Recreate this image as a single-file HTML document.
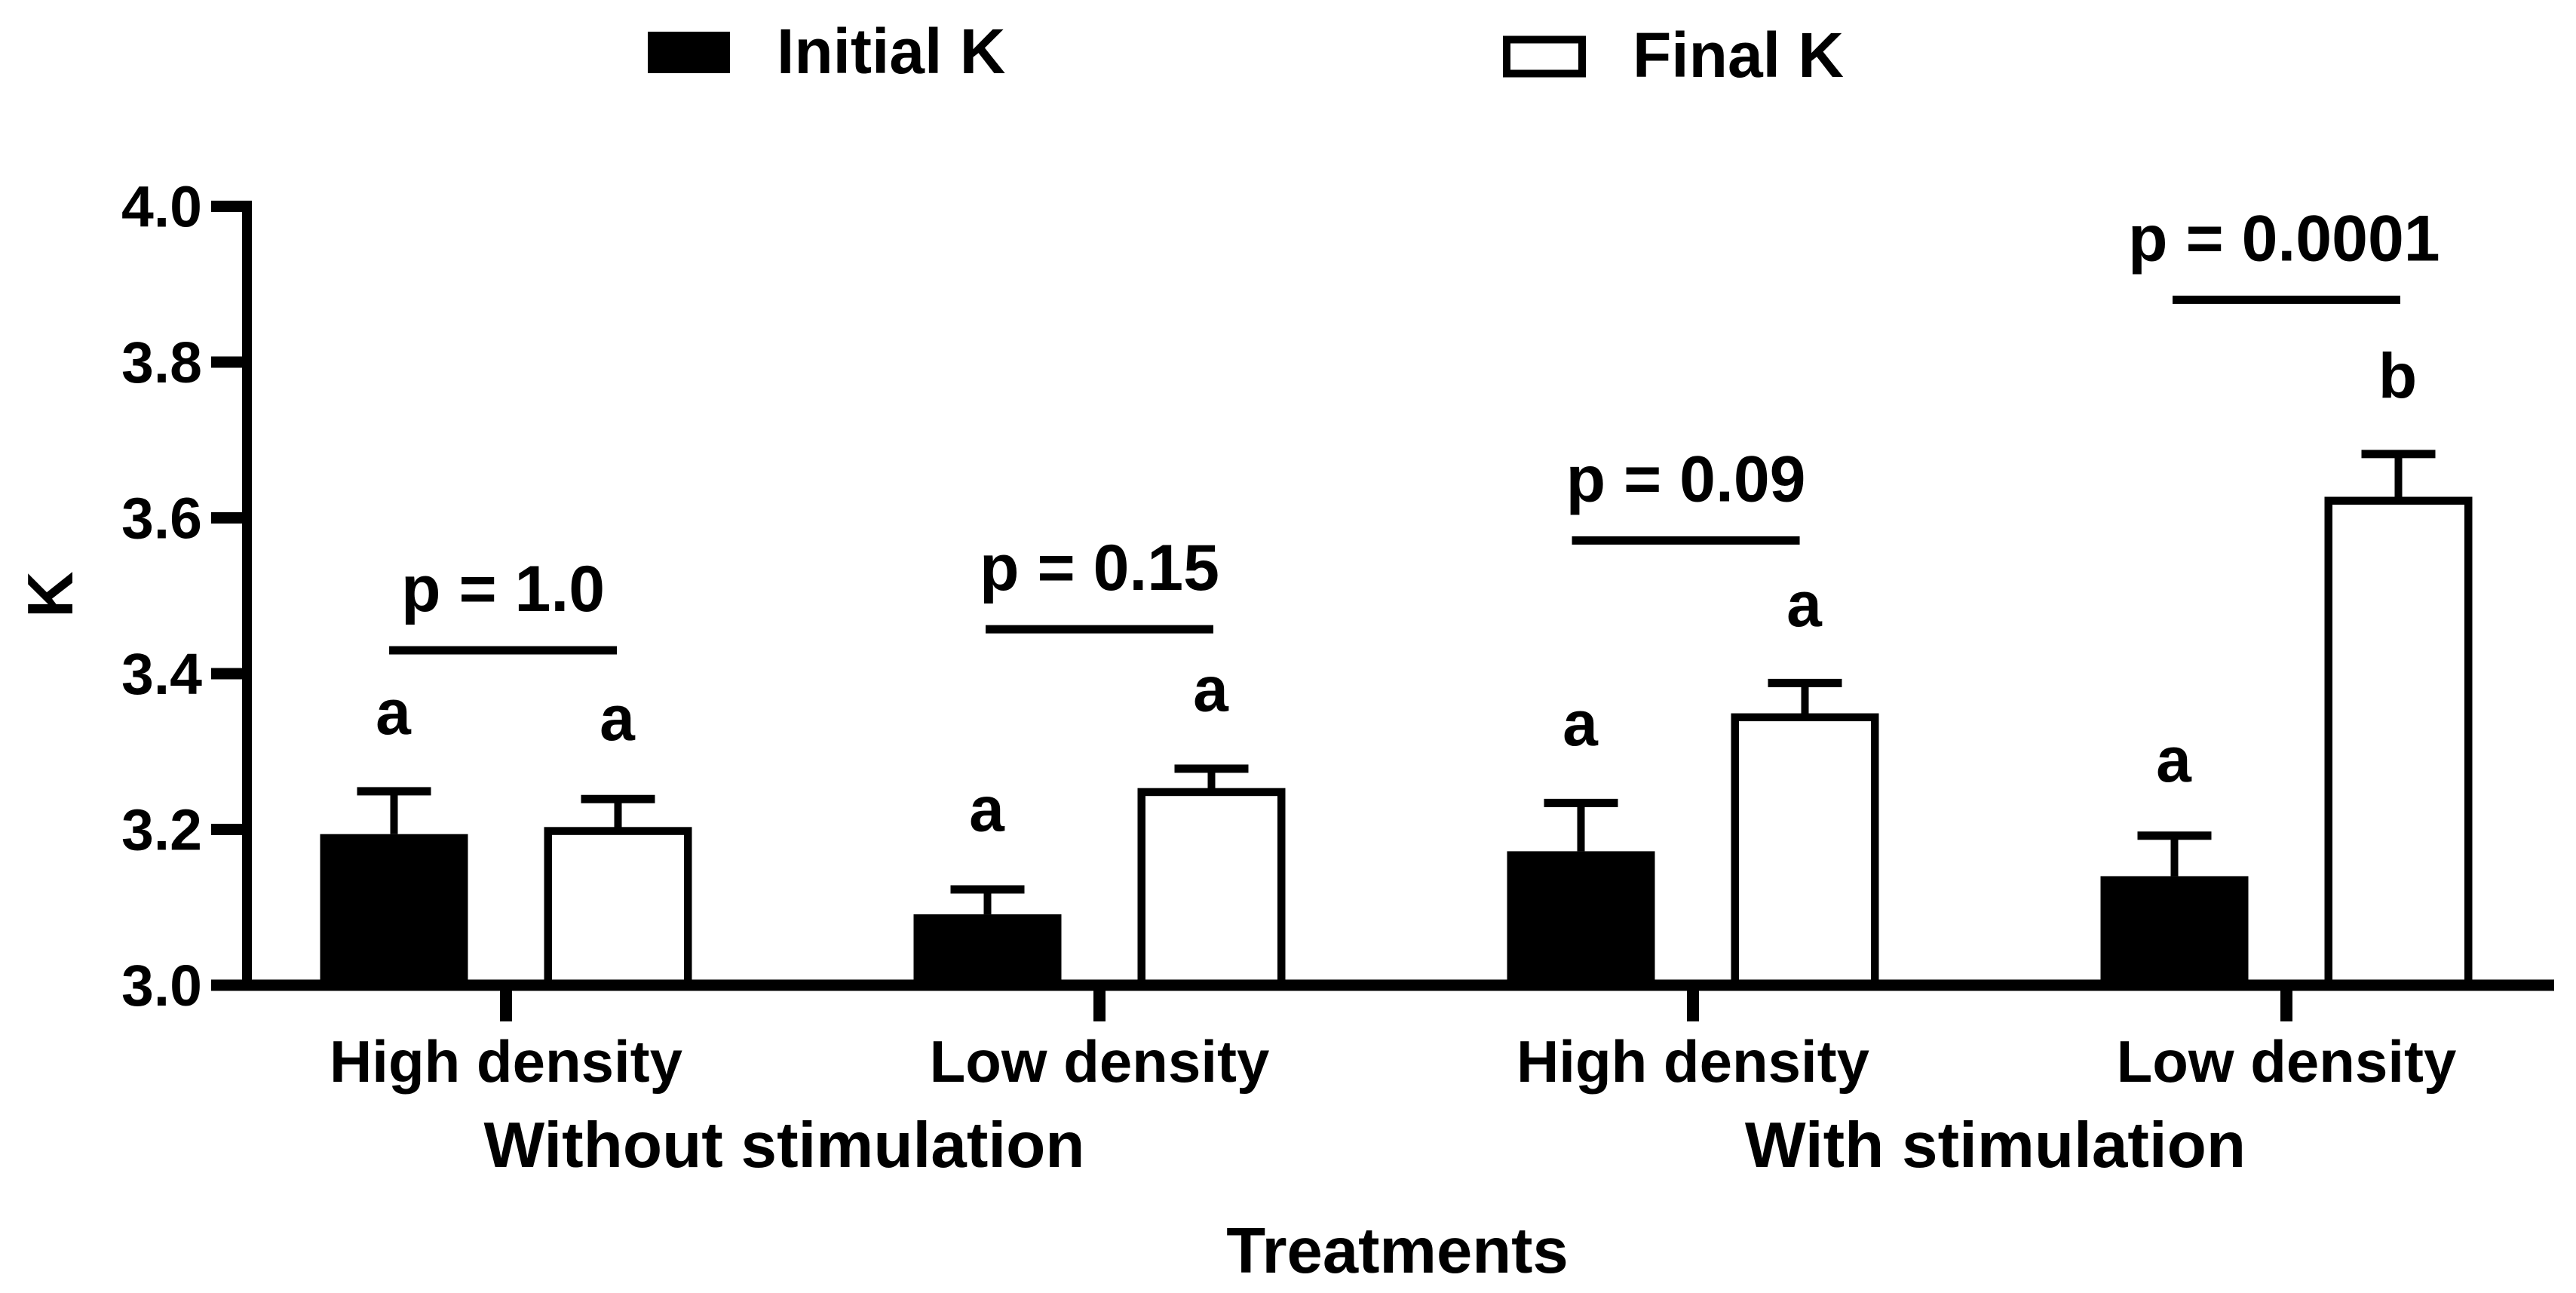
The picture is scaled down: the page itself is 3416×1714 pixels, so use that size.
<!DOCTYPE html>
<html lang="en">
<head>
<meta charset="utf-8">
<title>K before and after treatment</title>
<style>
html,body{margin:0;padding:0;background:#fff;}
svg{display:block;}
text{font-family:"Liberation Sans",Arial,sans-serif;font-weight:700;fill:#000;}
</style>
</head>
<body>
<svg id="chart" xmlns="http://www.w3.org/2000/svg" width="3416" height="1714" viewBox="0 0 3416 1714">
  <rect x="0" y="0" width="3416" height="1714" fill="#fff"/>
  <g id="bars"></g>
  <g id="errors"></g>
  <g id="axes"></g>
  <g id="notes"></g>
  <g>
    <rect x="859" y="42" width="109" height="55" fill="#000"/>
    <text x="1030" y="97" font-size="84">Initial K</text>
    <rect x="1998" y="52.5" width="100" height="45" fill="#fff" stroke="#000" stroke-width="10"/>
    <text x="2165" y="102" font-size="84">Final K</text>
  </g>
  <text transform="translate(96 788) rotate(-90)" text-anchor="middle" font-size="85">K</text>
  <text x="1040" y="1547" text-anchor="middle" font-size="85.5">Without stimulation</text>
  <text x="2646" y="1547" text-anchor="middle" font-size="85.5">With stimulation</text>
  <text x="1853" y="1687" text-anchor="middle" font-size="85">Treatments</text>
</svg>
<script>
// Chart data
const categories = ['High density', 'Low density', 'High density', 'Low density'];
const initialK = [3.194, 3.091, 3.172, 3.140];
const finalK = [3.198, 3.248, 3.344, 3.622];
const initialErr = [0.055, 0.032, 0.062, 0.052];
const finalErr = [0.041, 0.030, 0.044, 0.060];
const yTicks = [3.0, 3.2, 3.4, 3.6, 3.8, 4.0];
const pLabels = ['p = 1.0', 'p = 0.15', 'p = 0.09', 'p = 0.0001'];
// Significance bracket height in K units, and its centre in category units
const pLevels = [3.430, 3.457, 3.571, 3.880];
const pCategory = [-0.005, 1, 1.988, 3];
const pLabelCategory = [-0.005, 1, 1.988, 2.996];
// Significance letters and their baseline height in K units
const initialLetters = ['a', 'a', 'a', 'a'];
const finalLetters = ['a', 'a', 'a', 'b'];
const initialLetterLevels = [3.3225, 3.198, 3.308, 3.2615];
const finalLetterLevels = [3.315, 3.352, 3.461, 3.754];

// Axis functions
const y = v => 1306 - (v - 3) * 1032.5;
const x = c => 671 + 787 * c;
const BAR_OFFSET = 148.5;
const BAR_WIDTH = 196;
const STROKE = 10.5;
const CAP_WIDTH = 98;

const SVG_NS = 'http://www.w3.org/2000/svg';
const barsLayer = document.getElementById('bars');
const errorsLayer = document.getElementById('errors');
const axesLayer = document.getElementById('axes');
const notesLayer = document.getElementById('notes');

function makeRect(parent, left, top, width, height) {
  const el = document.createElementNS(SVG_NS, 'rect');
  el.setAttribute('x', left);
  el.setAttribute('y', top);
  el.setAttribute('width', width);
  el.setAttribute('height', height);
  el.setAttribute('fill', '#000');
  parent.appendChild(el);
  return el;
}

function makeText(parent, content, px, py, size, anchor) {
  const el = document.createElementNS(SVG_NS, 'text');
  el.setAttribute('x', px);
  el.setAttribute('y', py);
  el.setAttribute('font-size', size);
  el.setAttribute('text-anchor', anchor);
  el.textContent = content;
  parent.appendChild(el);
  return el;
}

function drawError(center, value, err, idx, series) {
  const capY = y(value + err);
  const stem = makeRect(errorsLayer, center - 5, capY, 10, y(value) - capY);
  
  
  const cap = makeRect(errorsLayer, center - CAP_WIDTH / 2, capY - 5.5, CAP_WIDTH, 11);
  
  
}

categories.forEach((name, i) => {
  const cx = x(i);
  const leftCenter = cx - BAR_OFFSET;
  const rightCenter = cx + BAR_OFFSET;

  const solid = makeRect(barsLayer, leftCenter - BAR_WIDTH / 2, y(initialK[i]), BAR_WIDTH, y(3) - y(initialK[i]));
  
  

  const hollow = makeRect(barsLayer, rightCenter - (BAR_WIDTH - STROKE) / 2, y(finalK[i]), BAR_WIDTH - STROKE, y(3) - y(finalK[i]));
  hollow.setAttribute('fill', '#fff');
  hollow.setAttribute('stroke', '#000');
  hollow.setAttribute('stroke-width', STROKE);
  
  

  drawError(leftCenter, initialK[i], initialErr[i], i, 'initial-k');
  drawError(rightCenter, finalK[i], finalErr[i], i, 'final-k');

  const tick = makeRect(axesLayer, cx - 8, 1306, 16, 48);
  
  

  const label = makeText(axesLayer, name, cx, 1434, 78, 'middle');
  
  

  const letterA = makeText(notesLayer, initialLetters[i], leftCenter - 1, y(initialLetterLevels[i]), 84, 'middle');
  
  

  const letterB = makeText(notesLayer, finalLetters[i], rightCenter - 1, y(finalLetterLevels[i]), 84, 'middle');
  
  

  const bracketX = x(pCategory[i]);
  const bracket = makeRect(notesLayer, bracketX - 151, y(pLevels[i]) - 5.5, 302, 11);
  
  

  const pText = makeText(notesLayer, pLabels[i], x(pLabelCategory[i]), y(pLevels[i]) - 52, 86, 'middle');
  
  
});

const yAxisLine = makeRect(axesLayer, 321, y(4) - 7.5, 13, y(3) - y(4) + 15);



const xAxisLine = makeRect(axesLayer, 280, y(3) - 7.5, 3107, 15);



yTicks.forEach(value => {
  const tick = makeRect(axesLayer, 280, y(value) - 7.5, 42, 15);
  
  
  const label = makeText(axesLayer, value.toFixed(1), 268, y(value) + 27, 77, 'end');
  
  
});
</script>
</body>
</html>
